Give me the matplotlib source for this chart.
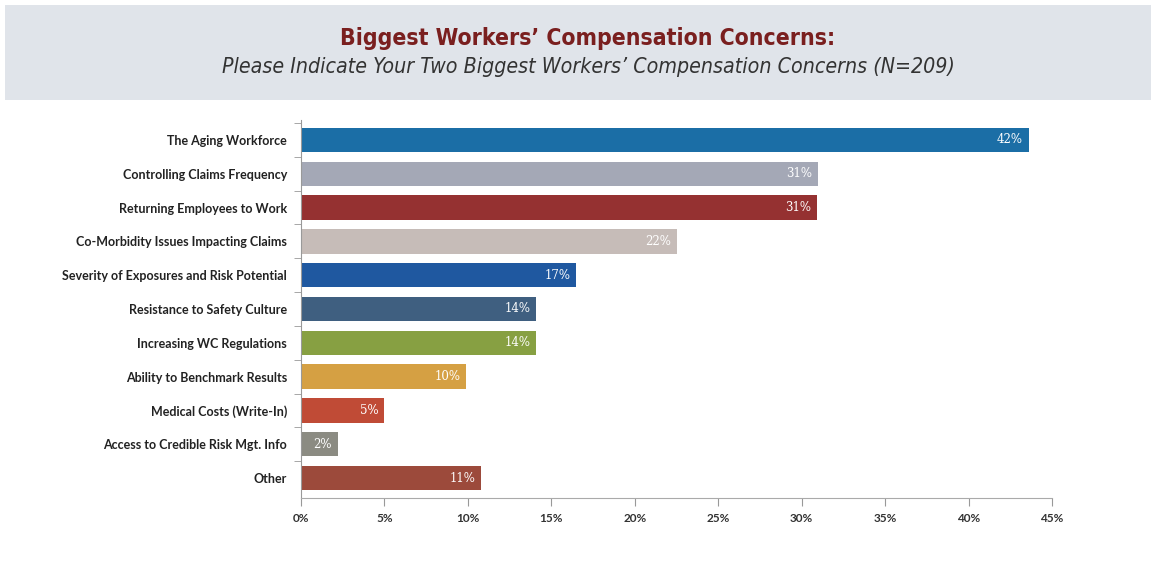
import matplotlib
matplotlib.use("Agg")
import matplotlib.pyplot as plt
from matplotlib.patches import Rectangle

# categories, top to bottom
concerns = [
    "The Aging Workforce",
    "Controlling Claims Frequency",
    "Returning Employees to Work",
    "Co-Morbidity Issues Impacting Claims",
    "Severity of Exposures and Risk Potential",
    "Resistance to Safety Culture",
    "Increasing WC Regulations",
    "Ability to Benchmark Results",
    "Medical Costs (Write-In)",
    "Access to Credible Risk Mgt. Info",
    "Other",
]
# bar lengths as drawn (percent)
shares = [43.6, 31.0, 30.9, 22.5, 16.5, 14.1, 14.1, 9.9, 5.0, 2.2, 10.8]
# labels printed on the bars
share_labels = ["42%", "31%", "31%", "22%", "17%", "14%", "14%", "10%", "5%", "2%", "11%"]
bar_colors = ["#1b6ea6", "#a4a8b6", "#953131", "#c6bcb8", "#1f58a0", "#3f5f80",
              "#87a042", "#d5a043", "#c04b36", "#8b8b82", "#9c4a3b"]
x_ticks = [0, 5, 10, 15, 20, 25, 30, 35, 40, 45]

fig = plt.figure(figsize=(11.51, 5.76), dpi=100)

# title band
fig.patches.append(Rectangle((0.004, 1 - 100 / 576), 0.996, 95 / 576,
                             transform=fig.transFigure, facecolor="#e0e4ea",
                             edgecolor="none", zorder=0))
fig.text(588 / 1151, 1 - 38 / 576, "Biggest Workers\u2019 Compensation Concerns:",
         ha="center", va="center", fontsize=16.5, fontweight="bold",
         fontstretch="condensed", color="#7a1f1f", family="DejaVu Sans")
fig.text(588 / 1151, 1 - 67 / 576,
         "Please Indicate Your Two Biggest Workers\u2019 Compensation Concerns (N=209)",
         ha="center", va="center", fontsize=15.3, style="italic",
         fontstretch="condensed", color="#333333", family="DejaVu Sans")

ax = fig.add_axes([301 / 1151, 1 - 498 / 576, (1052 - 301) / 1151, 378 / 576])
ypos = list(range(len(concerns)))
ax.barh(ypos, shares, height=0.72, color=bar_colors, zorder=2)
for y, v, lab in zip(ypos, shares, share_labels):
    ax.text(v - 0.35, y, lab, ha="right", va="center", fontsize=8.5,
            color="white", family="DejaVu Serif", zorder=3)

ax.set_ylim(len(concerns) - 0.41, -0.59)
ax.set_xlim(0, 45)
ax.set_yticks(ypos)
ax.set_yticklabels(concerns, fontsize=9, fontweight="bold", color="#222222",
                   family="Lato")
ax.set_yticks([y + 0.5 for y in ypos[:-1]] + [-0.5], minor=True)
ax.tick_params(axis="y", which="major", length=0, pad=10)
ax.tick_params(axis="y", which="minor", length=5, color="#999999", direction="out")
ax.set_xticks(x_ticks)
ax.set_xticklabels([f"{t}%" for t in x_ticks], fontsize=8.5, color="#333333",
                   fontweight="bold", family="Lato")
ax.tick_params(axis="x", length=6, color="#999999", pad=5)

for side in ["top", "right"]:
    ax.spines[side].set_visible(False)
ax.spines["left"].set_color("#999999")
ax.spines["bottom"].set_color("#aaaaaa")
ax.set_facecolor("none")

fig.savefig("out.png", dpi=100)
